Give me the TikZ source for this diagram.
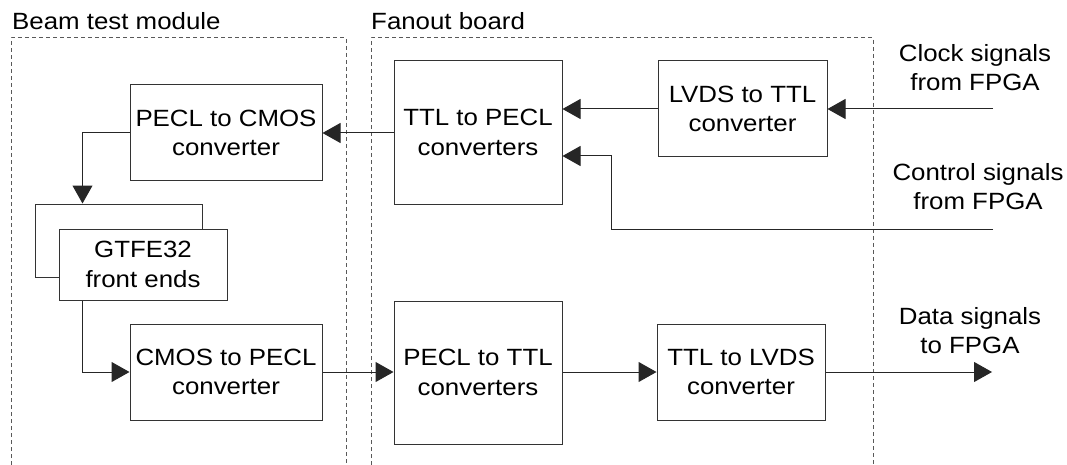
\documentclass[tikz,border=0pt]{standalone}
\usepackage{fontspec}
\setmainfont{Liberation Sans}[FakeStretch=1.1]
\usetikzlibrary{arrows.meta}
\begin{document}
\begin{tikzpicture}[x=1pt,y=-1pt,
  every node/.style={font=\fontsize{23.5}{29.5}\selectfont},
  blk/.style={draw=black!80, fill=white, line width=1pt, align=center, inner sep=2pt},
  conn/.style={draw=black!85, line width=1pt, -{Triangle[length=18pt,width=20pt]}},
  plain/.style={draw=black!85, line width=1pt},
  dashbox/.style={draw=black!65, line width=1pt, dash pattern=on 4pt off 3pt},
  lbl/.style={inner sep=0pt, anchor=base west},
  sig/.style={inner sep=0pt, align=center}
]
\useasboundingbox (0,0) rectangle (1067,465);
% dashed enclosures
\draw[dashbox] (11,465) |- (346,38) -- (346,465);
\draw[dashbox] (371,465) |- (873,38) -- (873,465);
\node[lbl] (bt) at (12,30) {Beam test module};
\node[lbl] (fb) at (371,30) {Fanout board};

% blocks
\node[blk, minimum width=192, minimum height=96] (pc) at (226,133) {PECL to CMOS\\converter};
\node[blk, minimum width=167, minimum height=73] (gb) at (118.5,240.5) {};
\node[blk, minimum width=168, minimum height=71] (gf) at (143,264.5) {GTFE32\\front ends};
\node[blk, minimum width=192, minimum height=96] (cp) at (226,372) {CMOS to PECL\\converter};
\node[blk, minimum width=168, minimum height=143] (tp) at (478,132.5) {TTL to PECL\\converters};
\node[blk, minimum width=169, minimum height=96] (lt) at (742.5,109) {LVDS to TTL\\converter};
\node[blk, minimum width=168, minimum height=143] (pt) at (478,372.5) {PECL to TTL\\converters};
\node[blk, minimum width=168, minimum height=96] (tl) at (741,372) {TTL to LVDS\\converter};

% signal labels
\node[sig] (cl) at (975,67.5) {Clock signals\\from FPGA};
\node[sig] (ct) at (978,186.5) {Control signals\\from FPGA};
\node[sig] (ds) at (970,330.5) {Data signals\\to FPGA};

% free ends
\coordinate (clk) at (993,109);
\coordinate (ctl) at (993,229);
\coordinate (cb) at (611,156);
\coordinate (dend) at (992,372);

% connectors
\draw[conn] (clk) -- (clk -| lt.east);
\draw[conn] (lt.west) -- (lt.west -| tp.east);
\draw[conn] (ctl) -| (cb) -- (cb -| tp.east);
\draw[conn] (tp.west |- pc.east) -- (pc.east);
\draw[conn] (pc.west) -| ([xshift=48]gb.north west);
\draw[conn] ([xshift=24]gf.south west) |- (cp.west);
\draw[conn] (cp.east) -- (cp.east -| pt.west);
\draw[conn] (pt.east |- tl.west) -- (tl.west);
\draw[conn] (tl.east) -- (dend);
\end{tikzpicture}
\end{document}
